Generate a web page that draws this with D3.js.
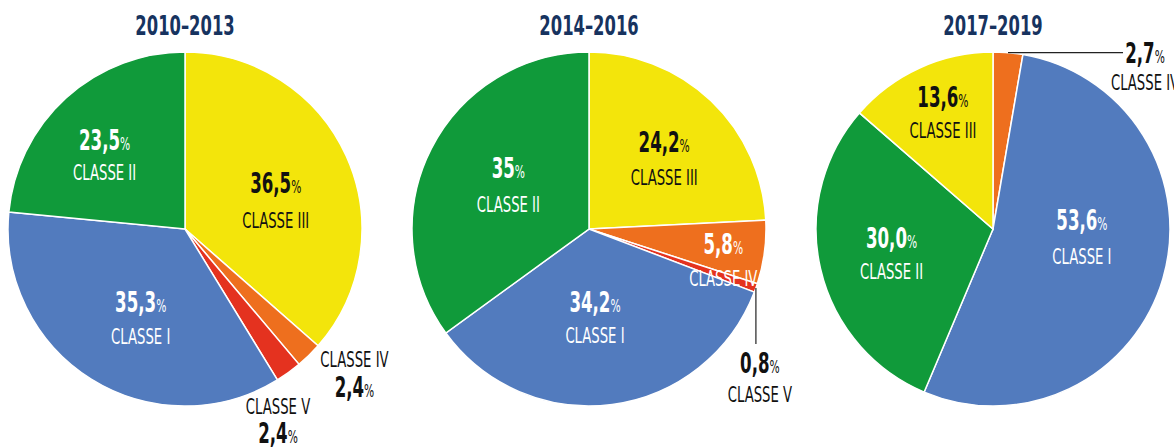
<!DOCTYPE html>
<html>
<head>
<meta charset="utf-8">
<script src="https://cdn.jsdelivr.net/npm/d3@7"></script>
<style>
  body { margin: 0; background: #fff; }
  text { font-family: 'Liberation Sans Narrow', 'DejaVu Sans Condensed', sans-serif; }
</style>
</head>
<body>
<div id="main"></div>
<script>
const ctx = {
    w: 1174,
    h: 448,
    r: 177,
    cy: 229,
};

// data
const periods = ["2010–2013", "2014–2016", "2017–2019"];
const classes = ["CLASSE I", "CLASSE II", "CLASSE III", "CLASSE IV", "CLASSE V"];
const share2010 = [35.3, 23.5, 36.5, 2.4, 2.4];
const share2014 = [34.2, 35, 24.2, 5.8, 0.8];
const share2017 = [53.6, 30.0, 13.6, 2.7, 0];
const text2010 = ["35,3", "23,5", "36,5", "2,4", "2,4"];
const text2014 = ["34,2", "35", "24,2", "5,8", "0,8"];
const text2017 = ["53,6", "30,0", "13,6", "2,7", ""];
// clockwise from 12 o'clock
const order2010 = ["CLASSE III", "CLASSE IV", "CLASSE V", "CLASSE I", "CLASSE II"];
const order2014 = ["CLASSE III", "CLASSE IV", "CLASSE V", "CLASSE I", "CLASSE II"];
const order2017 = ["CLASSE IV", "CLASSE I", "CLASSE II", "CLASSE III"];
const colors = ["#527bbe", "#109a3a", "#f3e50b", "#ee6f1e", "#e4321f"];

// label placement (k = anchor radius factor, dx/dy nudge, gap between the two lines)
const labelPos = {
  "2010–2013": {
    "CLASSE III": {k: .6, dx: -6, dy: 8, gap: 35},
    "CLASSE II": {k: .6, dx: -9, dy: 0, gap: 30},
    "CLASSE I": {k: .6, dx: 12, dy: -7, gap: 32},
    "CLASSE IV": {k: 1.15, dx: 27, dy: -7, gap: 30, outside: true, classFirst: true},
    "CLASSE V": {k: 1.15, dx: -26, dy: 20, gap: 29, outside: true, classFirst: true},
  },
  "2014–2016": {
    "CLASSE III": {k: .6, dx: 2, dy: 0, gap: 33},
    "CLASSE II": {k: .6, dx: 14, dy: -3, gap: 34},
    "CLASSE I": {k: .6, dx: -8, dy: -22, gap: 31},
    "CLASSE IV": {k: .6, dx: 29, dy: 11, gap: 32},
    "CLASSE V": {leader: [0, 56], dx: 4, dy: 29, gap: 29, outside: true},
  },
  "2017–2019": {
    "CLASSE I": {k: .6, dx: -13, dy: -29, gap: 34},
    "CLASSE II": {k: .6, dx: 2, dy: -5, gap: 31},
    "CLASSE III": {k: .6, dx: -6, dy: -25, gap: 31},
    "CLASSE IV": {leader: [115, 0], dx: 22, dy: 10, gap: 27, outside: true},
  },
};

function addValue(g, x, y, txt, fill) {
    const t = g.append("text")
        .attr("transform", `translate(${x},${y}) scale(0.66,1)`)
        .attr("text-anchor", "middle")
        .style("fill", fill);
    t.append("tspan").attr("font-weight", "bold").attr("font-size", 28).text(txt);
    t.append("tspan").attr("font-size", 18).text("%");
}

function addClass(g, x, y, txt, fill) {
    g.append("text")
        .attr("transform", `translate(${x},${y}) scale(0.7,1)`)
        .attr("text-anchor", "middle")
        .attr("font-size", 21)
        .style("fill", fill)
        .text(txt);
}

function drawPie(svg, period, shares, texts, order, cx) {
    const data = order.map(c => {
        const i = classes.indexOf(c);
        return {cls: c, value: shares[i], text: texts[i], color: colors[i]};
    });
    const pie = d3.pie().sort(null).value(d => d.value);
    const arc = d3.arc().innerRadius(0).outerRadius(ctx.r);
    const arcs = pie(data);

    const g = svg.append("g").attr("transform", `translate(${cx},${ctx.cy})`);
    g.selectAll("path")
        .data(arcs)
        .enter()
        .append("path")
        .attr("d", arc)
        .attr("fill", d => d.data.color)
        .attr("stroke", "#fff")
        .attr("stroke-width", 1.5);

    svg.append("text")
        .attr("transform", `translate(${cx},35) scale(0.7,1)`)
        .attr("text-anchor", "middle")
        .attr("font-weight", "bold")
        .attr("font-size", 26)
        .style("fill", "#17335f")
        .text(period);

    arcs.forEach(a => {
        const p = labelPos[period][a.data.cls];
        let x, y;
        if (p.leader) {
            const [ex, ey] = d3.arc().innerRadius(ctx.r).outerRadius(ctx.r).centroid(a);
            g.append("line")
                .attr("x1", ex).attr("y1", ey)
                .attr("x2", ex + p.leader[0]).attr("y2", ey + p.leader[1])
                .attr("stroke", "#222").attr("stroke-width", 1.2);
            x = ex + p.leader[0] + p.dx;
            y = ey + p.leader[1] + p.dy;
        } else {
            const rr = p.k * ctx.r;
            const [lx, ly] = d3.arc().innerRadius(rr).outerRadius(rr).centroid(a);
            x = lx + p.dx;
            y = ly + p.dy;
        }
        const dark = p.outside || a.data.cls === "CLASSE III";
        const fill = dark ? "#111" : "#fff";
        if (p.classFirst) {
            addClass(g, x, y, a.data.cls, fill);
            addValue(g, x, y + p.gap, a.data.text, fill);
        } else {
            addValue(g, x, y, a.data.text, fill);
            addClass(g, x, y + p.gap, a.data.cls, fill);
        }
    });
}

function createViz() {
    const svg = d3.select("#main").append("svg")
        .attr("width", ctx.w)
        .attr("height", ctx.h);
    const xPos = d3.scalePoint().domain(periods).range([185, 993]);
    drawPie(svg, periods[0], share2010, text2010, order2010, xPos(periods[0]));
    drawPie(svg, periods[1], share2014, text2014, order2014, xPos(periods[1]));
    drawPie(svg, periods[2], share2017, text2017, order2017, xPos(periods[2]));
}

createViz();
</script>
</body>
</html>
